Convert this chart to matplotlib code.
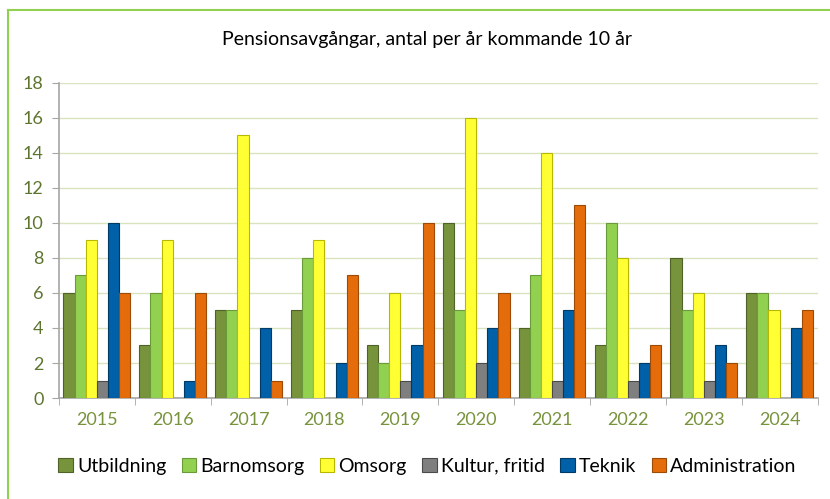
import matplotlib
matplotlib.use("Agg")
import matplotlib.pyplot as plt
import numpy as np
from matplotlib.lines import Line2D

plt.rcParams['font.family'] = ['Liberation Sans Narrow', 'Lato', 'DejaVu Sans']

# === Data ===
years = ["2015", "2016", "2017", "2018", "2019", "2020", "2021", "2022", "2023", "2024"]
utbildning     = [6, 3, 5, 5, 3, 10, 4, 3, 8, 6]
barnomsorg     = [7, 6, 5, 8, 2, 5, 7, 10, 5, 6]
omsorg         = [9, 9, 15, 9, 6, 16, 14, 8, 6, 5]
kultur_fritid  = [1, 0, 0, 0, 1, 2, 1, 1, 1, 0]
teknik         = [10, 1, 4, 2, 3, 4, 5, 2, 3, 4]
administration = [6, 6, 1, 7, 10, 6, 11, 3, 2, 5]

series_names = ["Utbildning", "Barnomsorg", "Omsorg", "Kultur, fritid", "Teknik", "Administration"]
series = [utbildning, barnomsorg, omsorg, kultur_fritid, teknik, administration]
colors = ["#77933C", "#92D050", "#FFFF33", "#7F7F7F", "#0060A8", "#E46C0A"]
edges  = ["#4F6228", "#6A9A3A", "#B8B800", "#4A4A4A", "#003A66", "#9C4A06"]

# === Figure ===
fig = plt.figure(figsize=(8.30, 4.99), dpi=100)
ax = fig.add_axes([0.071, 0.2024, 0.914, 0.6313])

n = len(series)
bw = 0.88 / n
x = np.arange(len(years))
for i, (vals, c, ec) in enumerate(zip(series, colors, edges)):
    off = -0.44 + bw * (i + 0.5)
    ax.bar(x + off, vals, width=bw, color=c, edgecolor=ec, linewidth=0.8, zorder=3)

ax.set_xlim(-0.5, len(years) - 0.5)
ax.set_ylim(0, 18)
ax.set_yticks(range(0, 19, 2))
ax.set_xticks(x)
ax.set_xticklabels(years)
ax.set_xticks(np.arange(-0.5, len(years)), minor=True)
ax.tick_params(axis='x', which='major', length=0, pad=10, labelsize=13, labelcolor="#77933C")
ax.tick_params(axis='x', which='minor', length=5, color="#A6A6A6", direction='out')
ax.tick_params(axis='y', length=5, color="#A6A6A6", labelsize=13, labelcolor="#5E7530", pad=6)

ax.grid(axis='y', color="#D7E4BD", linewidth=1.0, zorder=0)
for s in ["top", "right"]:
    ax.spines[s].set_visible(False)
ax.spines["left"].set_color("#A6A6A6")
ax.spines["bottom"].set_color("#A6A6A6")
ax.spines["left"].set_linewidth(1.2)
ax.spines["bottom"].set_linewidth(1.2)

fig.text(0.514, 0.92, "Pensionsavgångar, antal per år kommande 10 år", ha='center', va='center', fontsize=14, color="#000000")

handles = [plt.Rectangle((0, 0), 1, 1, facecolor=c, edgecolor=ec, linewidth=0.8) for c, ec in zip(colors, edges)]
fig.legend(handles, series_names, loc='center', bbox_to_anchor=(0.515, 0.066), ncol=6, frameon=False,
           fontsize=14, handlelength=0.75, handleheight=0.75, handletextpad=0.2, columnspacing=0.8)

# green frame (left and top)
fig.add_artist(Line2D([0.0096, 0.0096], [0.98, 0.0], transform=fig.transFigure, color="#92D050", linewidth=1.5))
fig.add_artist(Line2D([0.0096, 1.0], [0.98, 0.98], transform=fig.transFigure, color="#92D050", linewidth=1.5))

fig.savefig("out.png", dpi=100)
